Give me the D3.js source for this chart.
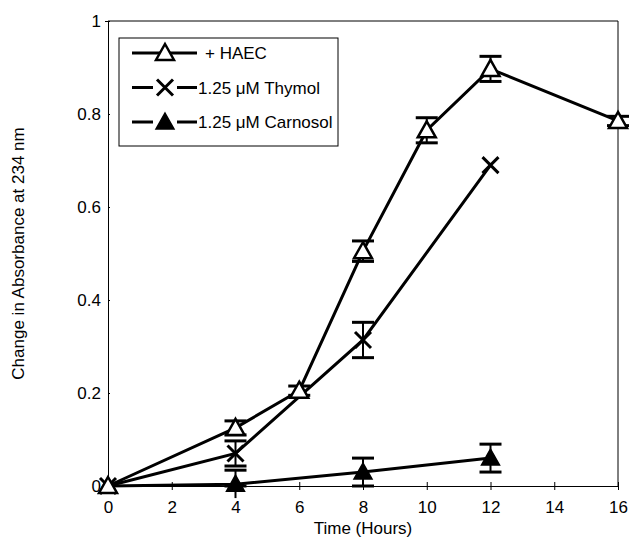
<!DOCTYPE html>
<html>
<head>
<meta charset="utf-8">
<script src="https://cdn.jsdelivr.net/npm/d3@7"></script>
<style>
  body { margin: 0; background: #fff; }
  text { font-family: "Liberation Sans", Arial, sans-serif; fill: #000; }
</style>
</head>
<body>
<svg id="chart" width="631" height="544"></svg>
<script>
// data
const haecTime = [0, 4, 6, 8, 10, 12, 16];
const haecValue = [0, 0.125, 0.205, 0.505, 0.765, 0.897, 0.785];
const haecErr = [0, 0.015, 0.01, 0.022, 0.027, 0.027, 0.01];

const thymolTime = [0, 4, 8, 12];
const thymolValue = [0, 0.07, 0.314, 0.69];
const thymolErr = [0, 0.027, 0.038, 0];

const carnosolTime = [0, 4, 8, 12];
const carnosolValue = [0, 0.004, 0.03, 0.06];
const carnosolErr = [0, 0.03, 0.03, 0.03];

const xTicks = [0, 2, 4, 6, 8, 10, 12, 14, 16];
const yTicks = [0, 0.2, 0.4, 0.6, 0.8, 1];
const legendLabels = ["+ HAEC", "1.25 μM Thymol", "1.25 μM Carnosol"];

const svg = d3.select("#chart");
const margin = {left: 108, right: 13, top: 21, bottom: 58};
const width = 631 - margin.left - margin.right,
    height = 544 - margin.top - margin.bottom;

const x = d3.scaleLinear().domain([0, 16]).range([0, width]);
const y = d3.scaleLinear().domain([0, 1]).range([height, 0]);

const g = svg.append("g").attr("transform", `translate(${margin.left},${margin.top})`);

// frame (top and right)
g.append("path")
    .attr("d", `M0,0H${width}V${height}`)
    .attr("fill", "none")
    .attr("stroke", "#000")
    .attr("stroke-width", 1);

const xAxis = g.append("g")
    .attr("transform", `translate(0,${height})`)
    .call(d3.axisBottom(x).tickValues(xTicks).tickSize(4).tickPadding(11).tickFormat(d3.format("d")));
xAxis.selectAll(".tick line").attr("y1", -4);
xAxis.selectAll("text").style("font-size", "17px");

const yAxis = g.append("g")
    .call(d3.axisLeft(y).tickValues(yTicks).tickSize(3).tickPadding(4).tickFormat(d => d === 0 || d === 1 ? d : d3.format(".1f")(d)));
yAxis.selectAll(".tick line").attr("x2", 2);
yAxis.selectAll("text").style("font-size", "17px");
g.selectAll(".domain").attr("stroke-width", 1);

// axis titles
svg.append("text")
    .attr("x", margin.left + x(8))
    .attr("y", 534)
    .attr("text-anchor", "middle")
    .style("font-size", "17px")
    .text("Time (Hours)");

svg.append("text")
    .attr("transform", `translate(24,${margin.top + y(0.5)}) rotate(-90)`)
    .attr("text-anchor", "middle")
    .style("font-size", "17px")
    .text("Change in Absorbance at 234 nm");

const triPath = "M0,-9L9,7L-9,7Z";
const xPath = "M-8,-8L8,8M-8,8L8,-8";

function drawSeries(times, values, errs, marker) {
    const pts = times.map((t, i) => ({t: t, v: values[i], e: errs[i]}));
    const line = d3.line().x(d => x(d.t)).y(d => y(d.v));
    g.append("path")
        .datum(pts)
        .attr("d", line)
        .attr("fill", "none")
        .attr("stroke", "#000")
        .attr("stroke-width", 3);

    const eb = g.append("g").selectAll("g")
        .data(pts.filter(d => d.e > 0))
        .enter().append("g")
        .attr("stroke", "#000")
        .attr("stroke-width", 3);
    eb.append("line")
        .attr("x1", d => x(d.t)).attr("x2", d => x(d.t))
        .attr("y1", d => y(d.v - d.e)).attr("y2", d => y(d.v + d.e))
        .attr("stroke-width", 2);
    eb.append("line")
        .attr("x1", d => x(d.t) - 11).attr("x2", d => x(d.t) + 11)
        .attr("y1", d => y(d.v + d.e)).attr("y2", d => y(d.v + d.e));
    eb.append("line")
        .attr("x1", d => x(d.t) - 11).attr("x2", d => x(d.t) + 11)
        .attr("y1", d => y(Math.max(0, d.v - d.e))).attr("y2", d => y(Math.max(0, d.v - d.e)));

    const m = g.append("g").selectAll("path")
        .data(pts)
        .enter().append("path")
        .attr("transform", d => `translate(${x(d.t)},${y(d.v)})`);
    styleMarker(m, marker);
}

function styleMarker(sel, marker) {
    if (marker === "open") {
        sel.attr("d", triPath).attr("fill", "#fff").attr("stroke", "#000").attr("stroke-width", 2.5);
    } else if (marker === "x") {
        sel.attr("d", xPath).attr("fill", "none").attr("stroke", "#000").attr("stroke-width", 3);
    } else {
        sel.attr("d", triPath).attr("fill", "#000").attr("stroke", "#000").attr("stroke-width", 1.5);
    }
}

drawSeries(carnosolTime, carnosolValue, carnosolErr, "filled");
drawSeries(thymolTime, thymolValue, thymolErr, "x");
drawSeries(haecTime, haecValue, haecErr, "open");

// legend
const markers = ["open", "x", "filled"];
const lg = svg.append("g").attr("transform", "translate(119,38)");
lg.append("rect")
    .attr("width", 219).attr("height", 108)
    .attr("fill", "#fff").attr("stroke", "#000").attr("stroke-width", 1);
const row = lg.selectAll(".row")
    .data(legendLabels)
    .enter().append("g")
    .attr("class", "row")
    .attr("transform", (d, i) => `translate(0,${15 + i * 34.5})`);
row.append("line")
    .attr("x1", 13).attr("x2", 78)
    .attr("stroke", "#000").attr("stroke-width", 3);
row.each(function(d, i) {
    const p = d3.select(this).append("path").attr("transform", "translate(46,0)");
    styleMarker(p, markers[i]);
    if (i > 0) d3.select(this).insert("rect", "path").attr("x", 34).attr("y", -10).attr("width", 24).attr("height", 20).attr("fill", "#fff");
});
row.append("text")
    .attr("x", (d, i) => i === 0 ? 86 : 79)
    .attr("y", 6)
    .style("font-size", "17px")
    .text(d => d);
</script>
</body>
</html>
